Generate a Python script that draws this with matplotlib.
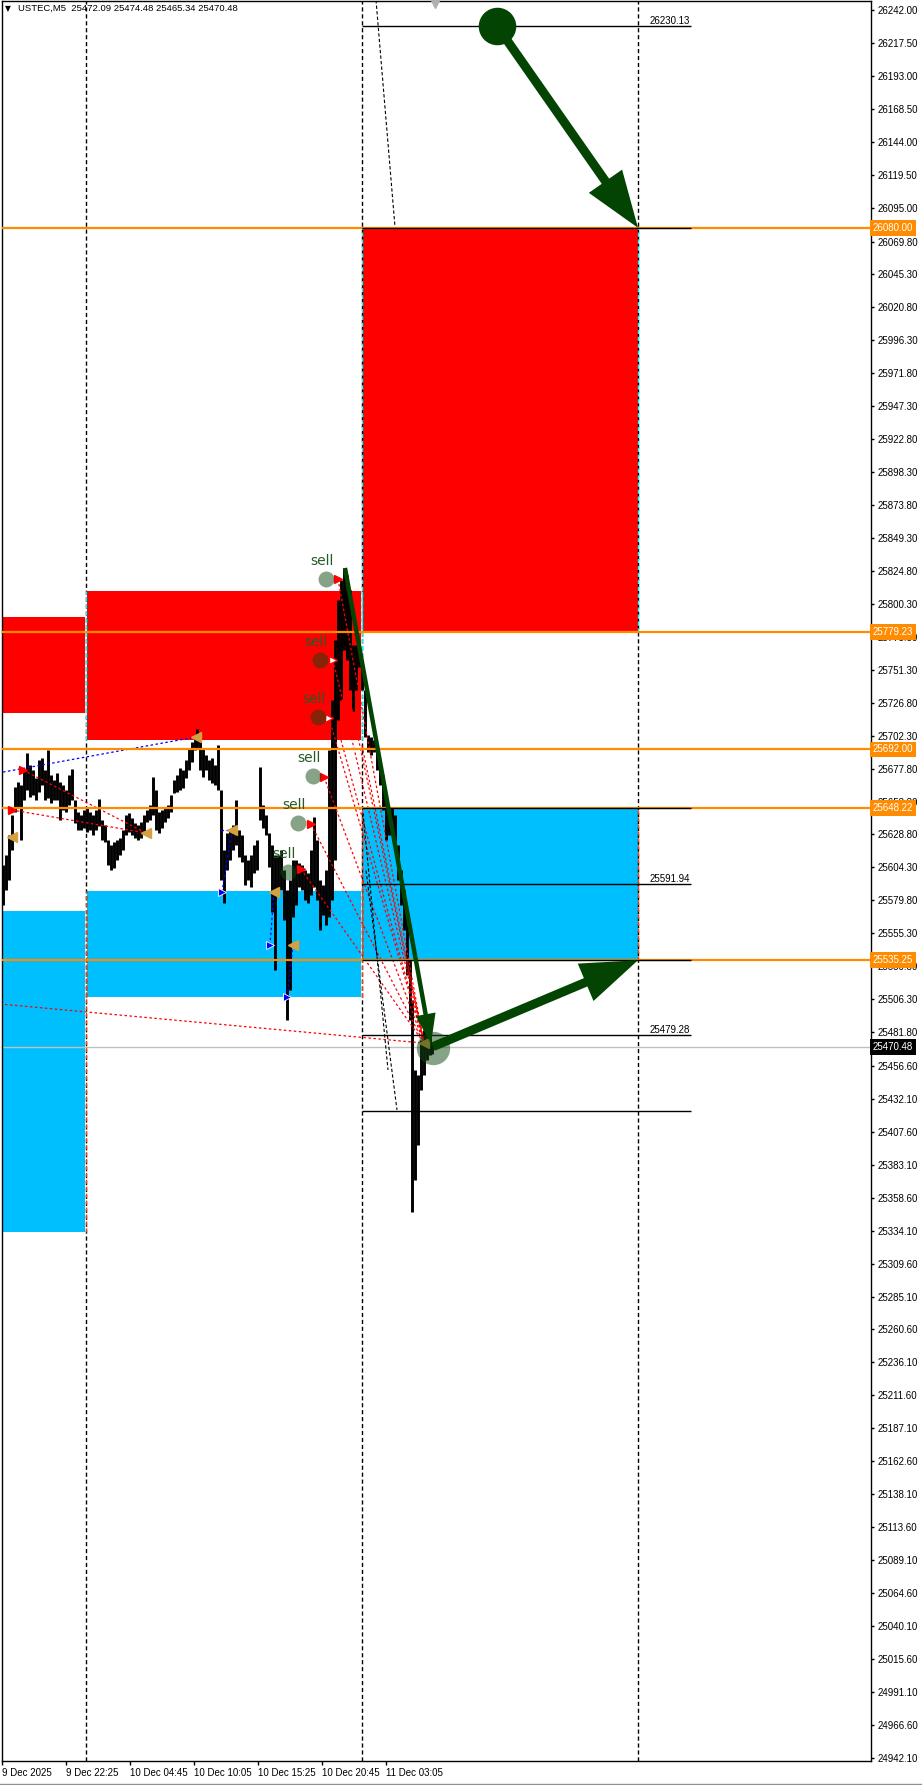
import matplotlib.pyplot as plt
from matplotlib.patches import Rectangle, FancyArrowPatch
from matplotlib.lines import Line2D

plt.rcParams['font.family'] = ['Liberation Sans', 'DejaVu Sans']

# ---- values ----
header = "USTEC,M5  25472.09 25474.48 25465.34 25470.48"

# M5 bars (bar position on the time axis, high, low), sampled every few bars
bar_idx = [3, 6, 9, 12, 15, 18, 21, 24, 27, 30,
           33, 36, 39, 42, 45, 48, 51, 54, 57, 60,
           63, 66, 69, 72, 75, 78, 81, 84, 87, 90,
           93, 96, 99, 102, 105, 108, 111, 114, 117, 120,
           123, 126, 129, 132, 135, 138, 141, 144, 147, 150,
           153, 156, 159, 162, 165, 168, 171, 174, 177, 180,
           183, 186, 189, 192, 195, 197, 200, 203, 206, 209,
           212, 215, 218, 221, 224, 227, 230, 233, 236, 239,
           242, 245, 248, 251, 254, 257, 260, 263, 266, 269,
           272, 275, 278, 281, 284, 287, 290, 293, 296, 299,
           302, 305, 308, 311, 314, 317, 320, 323, 326, 329,
           332, 335, 338, 341, 344, 347, 350, 353, 356, 359,
           362, 365, 368, 371, 374, 377, 380, 383, 386, 389,
           392, 395, 398, 401, 404, 407, 410, 412, 415, 418,
           421, 424, 427, 430, 432]
bar_high = [25606.1, 25613.5, 25628.4, 25643.2, 25664.1, 25667.8, 25665.6, 25676.7, 25689.4, 25680.4,
            25676.7, 25670.8, 25684.2, 25685.6, 25676.7, 25691.6, 25673.0, 25669.3, 25674.5, 25667.8,
            25665.6, 25661.8, 25673.0, 25677.5, 25654.4, 25645.5, 25643.2, 25647.0, 25648.4, 25645.5,
            25643.2, 25647.0, 25655.2, 25639.5, 25635.8, 25624.6, 25620.9, 25623.2, 25624.6, 25626.1,
            25632.1, 25643.2, 25644.7, 25641.0, 25637.3, 25635.8, 25638.0, 25643.2, 25647.0, 25650.7,
            25671.5, 25661.8, 25645.5, 25647.0, 25648.4, 25650.7, 25658.1, 25669.3, 25673.0, 25678.2,
            25676.7, 25684.2, 25693.1, 25697.5, 25702.7, 25707.2, 25699.0, 25693.1, 25687.9, 25684.2,
            25685.6, 25680.4, 25695.3, 25661.8, 25617.2, 25629.9, 25632.1, 25635.8, 25654.4, 25632.1,
            25628.4, 25613.5, 25609.8, 25613.5, 25620.9, 25624.6, 25678.9, 25650.7, 25643.2, 25629.9,
            25620.9, 25613.5, 25613.5, 25617.2, 25602.3, 25587.4, 25594.9, 25609.8, 25609.8, 25607.5,
            25606.1, 25602.3, 25600.1, 25617.2, 25641.8, 25624.6, 25594.9, 25591.2, 25602.3, 25691.6,
            25728.8, 25773.4, 25803.2, 25818.0, 25827.0, 25821.8, 25810.6, 25769.7, 25769.7, 25766.0,
            25758.5, 25736.2, 25702.7, 25701.3, 25699.0, 25693.1, 25680.4, 25673.0, 25654.4, 25647.0,
            25648.4, 25643.2, 25620.9, 25602.3, 25587.4, 25568.9, 25535.5, 25505.7, 25453.6, 25449.9,
            25475.9, 25483.4, 25490.8, 25483.4, 25474.5]
bar_low = [25576.4, 25587.4, 25594.9, 25617.2, 25645.5, 25648.4, 25624.6, 25654.4, 25661.8, 25656.6,
           25658.1, 25654.4, 25660.4, 25665.6, 25654.4, 25655.9, 25652.2, 25654.4, 25654.4, 25639.5,
           25647.0, 25645.5, 25650.7, 25654.4, 25637.3, 25632.1, 25632.1, 25633.6, 25630.6, 25632.1,
           25628.4, 25632.1, 25635.1, 25624.6, 25623.2, 25606.1, 25602.3, 25603.8, 25609.8, 25613.5,
           25617.2, 25628.4, 25630.6, 25628.4, 25626.1, 25624.6, 25626.1, 25629.9, 25638.0, 25639.5,
           25643.2, 25632.1, 25629.9, 25633.6, 25638.0, 25641.0, 25645.5, 25659.6, 25660.4, 25661.8,
           25663.3, 25670.8, 25676.7, 25682.7, 25691.6, 25693.1, 25676.7, 25671.5, 25676.7, 25669.3,
           25667.0, 25665.6, 25661.8, 25594.9, 25577.9, 25602.3, 25609.8, 25617.2, 25620.9, 25612.0,
           25608.3, 25591.2, 25594.9, 25589.7, 25600.1, 25602.3, 25639.5, 25633.6, 25628.4, 25604.6,
           25571.2, 25528.0, 25585.2, 25587.4, 25565.2, 25490.8, 25513.2, 25567.5, 25576.4, 25589.7,
           25587.4, 25580.1, 25577.9, 25583.7, 25589.7, 25580.1, 25557.8, 25568.9, 25561.5, 25567.5,
           25580.1, 25609.8, 25713.9, 25728.8, 25766.0, 25758.5, 25736.2, 25720.6, 25736.2, 25753.3,
           25736.2, 25701.3, 25690.1, 25687.9, 25690.1, 25676.7, 25665.6, 25647.0, 25624.6, 25628.4,
           25632.1, 25617.2, 25594.9, 25576.4, 25557.8, 25524.3, 25490.8, 25348.0, 25371.8, 25397.8,
           25438.8, 25449.9, 25461.1, 25464.8, 25465.3]

price_ticks = [26242.00, 26217.50, 26193.00, 26168.50, 26144.00, 26119.50, 26095.00, 26069.80,
               26045.30, 26020.80, 25996.30, 25971.80, 25947.30, 25922.80, 25898.30, 25873.80,
               25849.30, 25824.80, 25800.30, 25775.80, 25751.30, 25726.80, 25702.30, 25677.80,
               25653.30, 25628.80, 25604.30, 25579.80, 25555.30, 25530.80, 25506.30, 25481.80,
               25456.60, 25432.10, 25407.60, 25383.10, 25358.60, 25334.10, 25309.60, 25285.10,
               25260.60, 25236.10, 25211.60, 25187.10, 25162.60, 25138.10, 25113.60, 25089.10,
               25064.60, 25040.10, 25015.60, 24991.10, 24966.60, 24942.10]
time_ticks = [2, 66, 130, 194, 258, 322, 386]
time_labels = ["9 Dec 2025", "9 Dec 22:25", "10 Dec 04:45", "10 Dec 10:05",
               "10 Dec 15:25", "10 Dec 20:45", "11 Dec 03:05"]

day_seps = [86, 362, 638]

levels = [26080.00, 25779.23, 25692.00, 25648.22, 25535.25]
last_price = 25470.48

# supply (red) and demand (blue) zones
red_x0 = [2, 87, 362]
red_x1 = [85, 361, 638]
red_top = [25790.8, 25809.8, 26080.00]
red_bot = [25719.4, 25699.0, 25779.23]
blue_x0 = [2, 87, 362]
blue_x1 = [85, 361, 638]
blue_top = [25571.9, 25586.7, 25648.22]
blue_bot = [25333.4, 25508.1, 25535.25]

# projection lines on the current day
proj_prices = [26230.13, 26080.00, 25648.22, 25591.94, 25535.25, 25479.28, 25423.10]
proj_labels = ["26230.13", "", "", "25591.94", "", "25479.28", ""]
proj_x0, proj_x1 = 362, 691

# sell signals
sell_x = [326, 320, 318, 313, 298, 288]
sell_p = [25818.7, 25758.5, 25716.1, 25672.3, 25637.3, 25600.8]
sell_arrow_x = [338, 333, 329, 324, 311, 301]
sell_arrow_p = [25818.7, 25758.5, 25715.4, 25671.5, 25636.5, 25603.1]
sell_arrow_hollow = [False, True, True, False, False, False]

left_arrow_x = [23, 12]
left_arrow_p = [25676.7, 25647.0]
buy_arrow_x = [222, 270, 287]
buy_arrow_p = [25586.0, 25546.5, 25508.0]
close_x = [12, 146, 196, 232, 274, 293, 424]
close_p = [25626.9, 25629.9, 25701.3, 25632.1, 25586.0, 25546.5, 25473.6]

# dashed trade lines
red_from_x = [23, 12, 0, 338, 333, 329, 324, 311, 301, 341, 352, 362]
red_from_p = [25676.7, 25647.0, 25502.7, 25818.7, 25758.5, 25715.4, 25671.5, 25636.5,
              25603.1, 25699.0, 25722.0, 25695.0]
red_to_x = [146, 146, 424, 424, 424, 424, 424, 424, 424, 424, 424, 424]
red_to_p = [25629.9, 25629.9, 25473.6, 25473.6, 25473.6, 25473.6, 25473.6, 25473.6,
            25473.6, 25473.6, 25473.6, 25473.6]
blue_from_x = [3, 222, 270, 287, 221]
blue_from_p = [25675.2, 25586.0, 25546.5, 25508.0, 25632.1]
blue_to_x = [196, 232, 274, 293, 232]
blue_to_p = [25701.3, 25632.1, 25586.0, 25546.5, 25632.1]
black_from_x = [376, 363, 366]
black_from_p = [26249.4, 25644.7, 25602.0]
black_to_x = [395, 388, 397]
black_to_p = [26080.6, 25453.6, 25423.9]

# green forecast arrows: start, end
arr_x0 = [497, 345, 433]
arr_p0 = [26230.13, 25827.0, 25471.0]
arr_x1 = [638, 431, 638]
arr_p1 = [26080.00, 25473.0, 25535.25]
arr_lw = [6.5, 3.2, 6.5]
arr_hl = [28, 15, 28]
arr_hw = [10, 5, 10]

W, H = 922, 1785
fig = plt.figure(figsize=(W / 100, H / 100), dpi=100)
ax = fig.add_axes([2 / W, 24 / H, 869 / W, 1760 / H])
ax.set_xlim(2, 871)
ax.set_ylim(24939.66, 26248.70)

dash = (0, (3, 2))
red_c, blue_c = '#FF0000', '#00BFFF'
green = '#034403'
circ = '#104910'

for x0, x1, t, b in zip(red_x0, red_x1, red_top, red_bot):
    ax.add_patch(Rectangle((x0, b), x1 - x0, t - b, fc=red_c, ec='none', zorder=1))
for x0, x1, t, b in zip(blue_x0, blue_x1, blue_top, blue_bot):
    ax.add_patch(Rectangle((x0, b), x1 - x0, t - b, fc=blue_c, ec='none', zorder=1))

# day separators (drawn inverted over the zones, like the terminal does)
for sx in day_seps:
    ax.axvline(sx, color='black', lw=1, ls=dash, zorder=2)
    for x0, x1, t, b in zip(red_x0, red_x1, red_top, red_bot):
        if x0 - 3 <= sx <= x1 + 3:
            ax.vlines(sx, b, t, color='#00FFFF', lw=1, ls=dash, zorder=2.1)
    for x0, x1, t, b in zip(blue_x0, blue_x1, blue_top, blue_bot):
        if x0 - 3 <= sx <= x1 + 3:
            ax.vlines(sx, b, t, color='#FF4000', lw=1, ls=dash, zorder=2.1)

ax.axhline(last_price, color='#c0c0c0', lw=1, zorder=2)

# candles
ax.vlines(bar_idx, bar_low, bar_high, color='black', lw=2.1, zorder=3)

for p in levels:
    ax.axhline(p, color='#FF8C00', lw=1.6, zorder=4)

ax.hlines(proj_prices, proj_x0, proj_x1, color='black', lw=1, zorder=4.5)
for p, lab in zip(proj_prices, proj_labels):
    if lab:
        ax.text(proj_x1 - 1, p, lab, ha='right', va='bottom', fontsize=7, zorder=5)

for a, b, c, d in zip(red_from_x, red_from_p, red_to_x, red_to_p):
    ax.plot([a, c], [b, d], color='red', lw=0.9, ls=(0, (2, 2)), zorder=3.5)
for a, b, c, d in zip(blue_from_x, blue_from_p, blue_to_x, blue_to_p):
    ax.plot([a, c], [b, d], color='#0000FF', lw=0.9, ls=(0, (2, 2)), zorder=3.5)
for a, b, c, d in zip(black_from_x, black_from_p, black_to_x, black_to_p):
    ax.plot([a, c], [b, d], color='black', lw=0.8, ls=(0, (3, 2)), zorder=3.5)

# trade markers
for x, p, hollow in zip(sell_arrow_x, sell_arrow_p, sell_arrow_hollow):
    ax.plot(x, p, marker='>', ms=6, mfc='white' if hollow else 'red', mec='red', mew=1, zorder=5)
ax.plot(left_arrow_x, left_arrow_p, ls='none', marker='>', ms=6, color='red', zorder=5)
ax.plot(buy_arrow_x, buy_arrow_p, ls='none', marker='>', ms=6, mfc='#0000FF', mec='white', mew=0.6, zorder=5)
ax.plot(close_x, close_p, ls='none', marker='<', ms=7, color='#D4A040', zorder=5)

ax.plot(sell_x, sell_p, ls='none', marker='o', ms=11.5, color=circ, alpha=0.5, mec='none', zorder=6)
for x, p in zip(sell_x, sell_p):
    ax.annotate('sell', (x, p), xytext=(-4, 18), textcoords='offset pixels', ha='center',
                va='center', fontsize=10, color='#285a28', family='DejaVu Sans', zorder=6)

ax.plot(433, 25470.0, marker='o', ms=24, color=circ, alpha=0.5, mec='none', zorder=6)
ax.plot(arr_x0[0], arr_p0[0], marker='o', ms=26, color=green, zorder=7)
for i in range(3):
    ax.add_patch(FancyArrowPatch((arr_x0[i], arr_p0[i]), (arr_x1[i], arr_p1[i]),
                                 arrowstyle=f'-|>,head_length={arr_hl[i]},head_width={arr_hw[i]}',
                                 mutation_scale=1, color=green, lw=arr_lw[i], shrinkA=0,
                                 shrinkB=0, joinstyle='miter', capstyle='butt', zorder=7))

ax.plot(435, 26247.0, marker='v', ms=7, color='#b0b0b0', clip_on=False, zorder=8)

# axes styling
for s in ax.spines.values():
    s.set_color('black')
    s.set_linewidth(1)
ax.yaxis.tick_right()
ax.set_yticks(price_ticks)
ax.set_yticklabels([f'{t:.2f}' for t in price_ticks])
ax.tick_params(axis='y', length=2.5, width=1, pad=2, labelsize=7)
ax.set_xticks(time_ticks)
ax.set_xticklabels(time_labels)
ax.tick_params(axis='x', length=3, width=1, pad=2, labelsize=7)
for lab in ax.get_xticklabels():
    lab.set_horizontalalignment('left')

tr = ax.get_yaxis_transform()
for p in levels:
    ax.text(1.002, p, f'{p:.2f}', transform=tr, ha='left', va='center', fontsize=7, color='white',
            bbox=dict(boxstyle='square,pad=0.3', fc='#FF8C00', ec='none'), zorder=9)
ax.text(1.002, last_price, f'{last_price:.2f}', transform=tr, ha='left', va='center', fontsize=7,
        color='white', bbox=dict(boxstyle='square,pad=0.3', fc='black', ec='none'), zorder=9)

fig.text(5 / W, 1 - 8.5 / H, '\u25bc', fontsize=5.5, va='center', ha='left',
         family=['DejaVu Sans'])
fig.text(18 / W, 1 - 8.5 / H, header, fontsize=6.8, va='center', ha='left')
fig.add_artist(Line2D([0, 1], [1 - 1783.5 / H] * 2, color='#909090', lw=1))

fig.savefig('out.png', dpi=100)
